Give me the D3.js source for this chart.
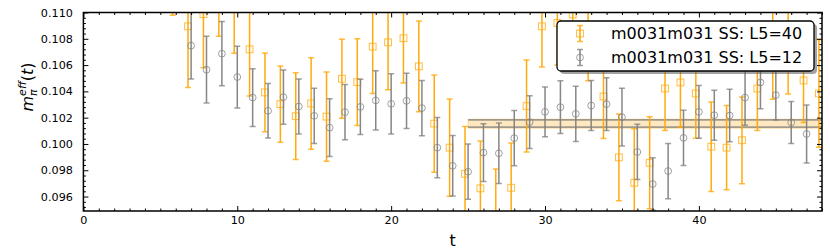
<!DOCTYPE html>
<html>
<head>
<meta charset="utf-8">
<script src="https://cdn.jsdelivr.net/npm/d3@7/dist/d3.min.js"></script>
<style>
  html, body { margin: 0; padding: 0; background: #fff; }
  svg { display: block; }
  text { font-family: "DejaVu Sans", sans-serif; }
</style>
</head>
<body>
<svg id="chart" width="830" height="249"></svg>
<script>
// ---- data ----
const tOrange = [6,7,8,9,10,11,12,13,14,15,16,17,18,19,20,21,22,23,24,25,26,27,28,29,30,31,32,33,34,35,36,37,38,39,40,41,42,43,44,45,46,47,48];
const valOrange = [0.1133,0.10895,0.10987,0.1117,0.1104,0.10720,0.10392,0.10303,0.10211,0.10308,0.10208,0.10496,0.10471,0.10740,0.10773,0.10804,0.10590,0.10155,0.09972,0.09773,0.09662,0.0945,0.09667,0.10288,0.10895,0.1092,0.10985,0.1082,0.10361,0.09898,0.09705,0.09857,0.10422,0.10468,0.10384,0.09979,0.09972,0.10028,0.10422,0.1068,0.1072,0.10483,0.10384];
const errOrange = [0.0035,0.00465,0.00407,0.0035,0.0035,0.00356,0.0030,0.0029,0.0033,0.00348,0.0034,0.0030,0.0033,0.00356,0.0036,0.0034,0.00345,0.0037,0.0037,0.0036,0.0036,0.0036,0.0034,0.0035,0.0031,0.0032,0.0035,0.0034,0.0032,0.0033,0.0041,0.0035,0.0032,0.0034,0.0034,0.0034,0.0032,0.0033,0.0032,0.0034,0.0034,0.0032,0.0041];

const tGrey = [7,8,9,10,11,12,13,14,15,16,17,18,19,20,21,22,23,24,25,26,27,28,29,30,31,32,33,34,35,36,37,38,39,40,41,42,43,44,45,46,47];
const valGrey = [0.10748,0.10565,0.10687,0.10509,0.10353,0.10252,0.10356,0.10285,0.10214,0.10124,0.10242,0.10282,0.10331,0.10305,0.10328,0.10273,0.09972,0.09834,0.09789,0.09934,0.09929,0.10044,0.10166,0.10244,0.10280,0.10229,0.10292,0.10303,0.10204,0.09939,0.09695,0.09794,0.10046,0.10244,0.10219,0.10216,0.10353,0.10468,0.10372,0.10163,0.10076];
const errGrey = [0.00254,0.00254,0.00245,0.00235,0.0022,0.00207,0.00207,0.0021,0.0021,0.0022,0.0021,0.0021,0.00225,0.0023,0.0021,0.0021,0.0023,0.0023,0.0021,0.0022,0.0023,0.0021,0.0020,0.0019,0.0020,0.0021,0.0019,0.0020,0.0022,0.0021,0.0020,0.0021,0.0021,0.0020,0.0019,0.0020,0.0021,0.0020,0.0019,0.0016,0.0022];

const fitRange = [25, 48];
const fitOrange = [0.10120, 0.10189];
const fitGrey = [0.10128, 0.10183];

const xTicks = [0, 10, 20, 30, 40];
const yTicks = [0.096, 0.098, 0.100, 0.102, 0.104, 0.106, 0.108, 0.110];
const legendLabels = ["m0031m031 SS: L5=40", "m0031m031 SS: L5=12"];

// ---- layout ----
const L = 83.4, R = 822, T = 12.5, B = 211;
const ORANGE = "#FFA500", GREY = "#808080";
const svg = d3.select("#chart");

const x = d3.scaleLinear().domain([0, 48]).range([L, R]);
const y = d3.scaleLinear().domain([0.0949, 0.110]).range([B, T]);

svg.append("defs").append("clipPath").attr("id", "clip")
  .append("rect").attr("x", L).attr("y", T).attr("width", R - L).attr("height", B - T);

const plot = svg.append("g").attr("clip-path", "url(#clip)");

// fit band
plot.append("rect")
  .attr("x", x(fitRange[0])).attr("width", x(fitRange[1]) - x(fitRange[0]))
  .attr("y", y(fitOrange[1])).attr("height", y(fitOrange[0]) - y(fitOrange[1]))
  .attr("fill", ORANGE).attr("fill-opacity", 0.25)
  .attr("stroke", ORANGE).attr("stroke-opacity", 0.4).attr("stroke-width", 0.8);
fitGrey.forEach(v => {
  plot.append("line")
    .attr("x1", x(fitRange[0])).attr("x2", x(fitRange[1]))
    .attr("y1", y(v)).attr("y2", y(v))
    .attr("stroke", GREY).attr("stroke-opacity", 0.75).attr("stroke-width", 1.8);
});

function drawSeries(ts, vals, errs, dx, color, marker) {
  const data = ts.map((t, i) => ({ t, v: vals[i], e: errs[i] }));
  const g = plot.append("g");
  const cap = 3;
  const item = g.selectAll("g").data(data).join("g");
  item.append("line")
    .attr("x1", d => x(d.t + dx)).attr("x2", d => x(d.t + dx))
    .attr("y1", d => y(d.v - d.e)).attr("y2", d => y(d.v + d.e))
    .attr("stroke", color).attr("stroke-width", 1.5).attr("stroke-opacity", 0.95);
  [-1, 1].forEach(s => {
    item.append("line")
      .attr("x1", d => x(d.t + dx) - cap).attr("x2", d => x(d.t + dx) + cap)
      .attr("y1", d => y(d.v + s * d.e)).attr("y2", d => y(d.v + s * d.e))
      .attr("stroke", color).attr("stroke-width", 1.5).attr("stroke-opacity", 0.75);
  });
  if (marker === "square") {
    item.append("rect")
      .attr("x", d => x(d.t + dx) - 3.4).attr("y", d => y(d.v) - 3.4)
      .attr("width", 6.8).attr("height", 6.8)
      .attr("fill", "none").attr("stroke", color).attr("stroke-width", 1).attr("stroke-opacity", 0.75);
  } else {
    item.append("circle")
      .attr("cx", d => x(d.t + dx)).attr("cy", d => y(d.v)).attr("r", 3.4)
      .attr("fill", "none").attr("stroke", color).attr("stroke-width", 1).attr("stroke-opacity", 0.75);
  }
}
drawSeries(tOrange, valOrange, errOrange, -0.2, ORANGE, "square");
drawSeries(tGrey, valGrey, errGrey, 0, GREY, "circle");

// ---- axes ----
const xMinor = d3.range(0, 49, 1).filter(v => v % 10 !== 0);
const yMinor = d3.range(0, 39).map(i => +(0.0948 + i * 0.0004).toFixed(5))
  .filter(v => v >= 0.0949 && v <= 0.110 && !yTicks.some(t => Math.abs(t - v) < 1e-7));

function styleAxis(g) {
  g.select(".domain").remove();
  g.selectAll("line").attr("stroke", "#000").attr("stroke-width", 1);
  g.selectAll("text").attr("font-family", "DejaVu Sans").attr("font-size", 11.2).attr("fill", "#000");
}
const MAJ = 5, MIN = 2.5;
svg.append("g").attr("transform", `translate(0,${B})`)
  .call(d3.axisBottom(x).tickValues(xTicks).tickSize(-MAJ).tickPadding(5).tickFormat(d3.format("d"))).call(styleAxis);
svg.append("g").attr("transform", `translate(0,${B})`)
  .call(d3.axisBottom(x).tickValues(xMinor).tickSize(-MIN).tickFormat("")).call(styleAxis);
svg.append("g").attr("transform", `translate(0,${T})`)
  .call(d3.axisTop(x).tickValues(xTicks).tickSize(-MAJ).tickFormat("")).call(styleAxis);
svg.append("g").attr("transform", `translate(0,${T})`)
  .call(d3.axisTop(x).tickValues(xMinor).tickSize(-MIN).tickFormat("")).call(styleAxis);
svg.append("g").attr("transform", `translate(${L},0)`)
  .call(d3.axisLeft(y).tickValues(yTicks).tickSize(-MAJ).tickPadding(10.5).tickFormat(d3.format(".3f"))).call(styleAxis);
svg.append("g").attr("transform", `translate(${L},0)`)
  .call(d3.axisLeft(y).tickValues(yMinor).tickSize(-MIN).tickFormat("")).call(styleAxis);
svg.append("g").attr("transform", `translate(${R},0)`)
  .call(d3.axisRight(y).tickValues(yTicks).tickSize(-MAJ).tickFormat("")).call(styleAxis);
svg.append("g").attr("transform", `translate(${R},0)`)
  .call(d3.axisRight(y).tickValues(yMinor).tickSize(-MIN).tickFormat("")).call(styleAxis);

// spines
svg.append("rect").attr("x", L).attr("y", T).attr("width", R - L).attr("height", B - T)
  .attr("fill", "none").attr("stroke", "#000").attr("stroke-width", 1.5);

// axis labels
svg.append("text").attr("x", (L + R) / 2).attr("y", 246).attr("text-anchor", "middle")
  .attr("font-size", 16).text("t");

const yl = svg.append("text").attr("transform", "translate(33,87) rotate(-90)")
  .attr("text-anchor", "middle").attr("font-size", 16).attr("font-style", "italic");
yl.append("tspan").text("m");
yl.append("tspan").attr("font-size", 11).attr("dy", 4).text("π");
yl.append("tspan").attr("font-size", 11).attr("dx", -6.5).attr("dy", -11).text("eff");
yl.append("tspan").attr("dy", 7).attr("font-style", "normal").text("(");
yl.append("tspan").text("t");
yl.append("tspan").attr("font-style", "normal").text(")");

// ---- legend ----
const lg = svg.append("g");
const LX = 557, LY = 21, LW = 257, LH = 50;
lg.append("rect").attr("x", LX + 3).attr("y", LY + 3).attr("width", LW).attr("height", LH)
  .attr("rx", 4).attr("fill", "#555").attr("fill-opacity", 0.55);
lg.append("rect").attr("x", LX).attr("y", LY).attr("width", LW).attr("height", LH)
  .attr("rx", 4).attr("fill", "#fff").attr("stroke", "#000").attr("stroke-width", 1.3);
[[ORANGE, "square"], [GREY, "circle"]].forEach(([c, m], i) => {
  const cy = LY + 12.5 + i * 24, cx = LX + 23;
  lg.append("line").attr("x1", cx).attr("x2", cx).attr("y1", cy - 8).attr("y2", cy + 8)
    .attr("stroke", c).attr("stroke-width", 1.5);
  [-8, 8].forEach(o => lg.append("line").attr("x1", cx - 3).attr("x2", cx + 3)
    .attr("y1", cy + o).attr("y2", cy + o).attr("stroke", c).attr("stroke-width", 1.5).attr("stroke-opacity", 0.75));
  if (m === "square") lg.append("rect").attr("x", cx - 3.4).attr("y", cy - 3.4).attr("width", 6.8).attr("height", 6.8)
    .attr("fill", "none").attr("stroke", c).attr("stroke-opacity", 0.75);
  else lg.append("circle").attr("cx", cx).attr("cy", cy).attr("r", 3.4)
    .attr("fill", "none").attr("stroke", c).attr("stroke-opacity", 0.75);
  lg.append("text").attr("x", LX + 54).attr("y", cy + 5.8).attr("font-size", 16).text(legendLabels[i]);
});
</script>
</body>
</html>
